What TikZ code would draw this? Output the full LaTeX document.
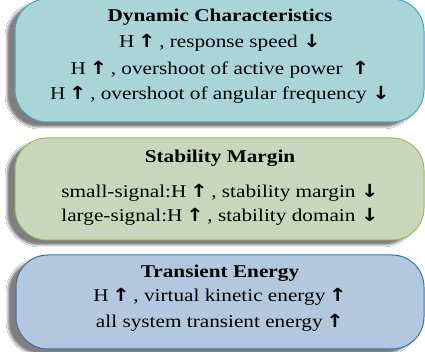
\documentclass[tikz,border=0pt]{standalone}
\usepackage{graphicx}
\usepackage{fontspec}
\setmainfont{Liberation Serif}
\newfontfamily\arrowfont{DejaVu Sans}
\usetikzlibrary{shadows.blur}
\definecolor{fillA}{HTML}{A9D5D9}
\definecolor{drawA}{HTML}{3AAAB8}
\definecolor{fillB}{HTML}{CAD6BB}
\definecolor{drawB}{HTML}{9BBB59}
\definecolor{fillC}{HTML}{B3C7DE}
\definecolor{drawC}{HTML}{2E75B6}
\newcommand{\UpA}{{\arrowfont\bfseries ↑}}
\newcommand{\DnA}{{\arrowfont\bfseries ↓}}
\newcommand{\Wd}[1]{\scalebox{1.18}[1]{#1}}
\tikzset{
  panel/.style={rounded corners=32pt, line width=1pt,
    blur shadow={shadow xshift=-8pt, shadow yshift=-5pt, shadow blur steps=8, shadow opacity=50}},
  txt/.style={anchor=base, inner sep=0pt, font=\fontsize{18}{20}\selectfont},
  ttl/.style={txt, font=\fontsize{18}{20}\selectfont\bfseries},
}
\begin{document}
\begin{tikzpicture}[x=1pt,y=1pt]
\useasboundingbox (0,0) rectangle (425,352);
\fill[white] (0,0) rectangle (425,352);
\draw[panel, fill=fillA, draw=drawA] (15,353) rectangle (424,230);
\draw[panel, fill=fillB, draw=drawB] (15,214) rectangle (424,112);
\draw[panel, fill=fillC, draw=drawC] (16,97) rectangle (424,3);

\node[ttl] (a0) at (220,330) {\Wd{Dynamic Characteristics}};
\node[txt] (a1) at (220,304) {\Wd{H\,\UpA\,, response speed \DnA}};
\node[txt] (a2) at (220,277) {\Wd{H\,\UpA\,, overshoot of active power \,\UpA}};
\node[txt] (a3) at (220,252) {\Wd{H\,\UpA\,, overshoot of angular frequency \DnA}};

\node[ttl] (b0) at (220,189) {\Wd{Stability Margin}};
\node[txt] (b1) at (220,154) {\Wd{small-signal:H\,\UpA\,, stability margin \DnA}};
\node[txt] (b2) at (220,130) {\Wd{large-signal:H\,\UpA\,, stability domain \DnA}};

\node[ttl] (c0) at (220,74) {\Wd{Transient Energy}};
\node[txt] (c1) at (220,50) {\Wd{H\,\UpA\,, virtual kinetic energy\,\UpA}};
\node[txt] (c2) at (220,24) {\Wd{all system transient energy\,\UpA}};
\end{tikzpicture}
\end{document}
